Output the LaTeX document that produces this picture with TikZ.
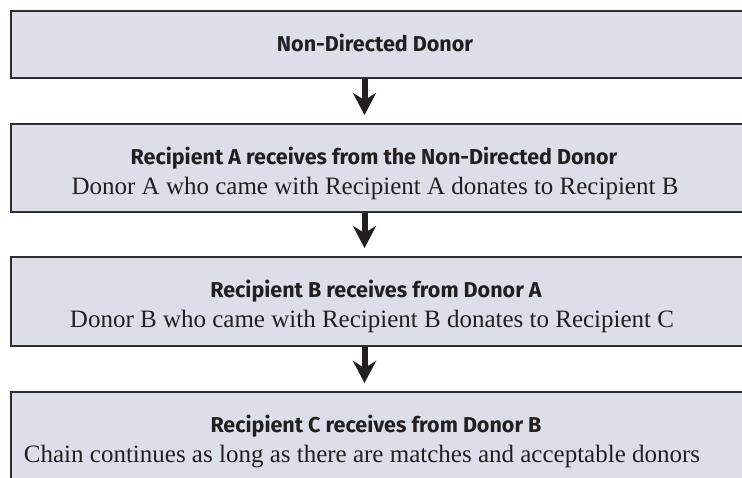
\documentclass[tikz,border=0pt]{standalone}
\usepackage{fontspec}
\setmainfont{Liberation Serif}
\newfontfamily\boldsans{Fira Sans}
\usetikzlibrary{arrows.meta}
\definecolor{boxfill}{RGB}{220,222,234}
\definecolor{boxline}{RGB}{45,45,48}
\definecolor{inktext}{RGB}{35,31,32}
\begin{document}
\begin{tikzpicture}[x=1pt,y=-1pt,
  flowbox/.style={draw=boxline, line width=2pt, fill=boxfill, rectangle, anchor=north west, inner sep=0pt, minimum width=760pt},
  headtext/.style={font=\boldsans\bfseries\fontsize{21.5}{25}\selectfont, text=inktext, inner sep=0pt, anchor=base},
  subtext/.style={font=\fontsize{25}{29}\selectfont, text=inktext, inner sep=0pt, anchor=base},
  flowarrow/.style={line width=6pt, draw=inktext, -{Stealth[length=22pt,width=23pt,inset=7pt]}, shorten >=8pt}]
\useasboundingbox (0,0) rectangle (742,477);
\clip (0,0) rectangle (742,477);
\fill[white] (0,0) rectangle (742,477);
\node[flowbox, minimum height=67pt] (b1) at (10,10) {};
\node[flowbox, minimum height=88pt] (b2) at (10,123) {};
\node[flowbox, minimum height=89pt] (b3) at (10,256) {};
\node[flowbox, minimum height=100pt] (b4) at (10,391) {};
\node[headtext] (t1) at (375,51) {Non-Directed Donor};
\node[headtext] (t2) at (374,164) {Recipient A receives from the Non-Directed Donor};
\node[subtext] (s2) at (375,194) {Donor A who came with Recipient A donates to Recipient B};
\node[headtext] (t3) at (376,297) {Recipient B receives from Donor A};
\node[subtext] (s3) at (372,327) {Donor B who came with Recipient B donates to Recipient C};
\node[headtext] (t4) at (376,432) {Recipient C receives from Donor B};
\node[subtext] (s4) at (362,462) {Chain continues as long as there are matches and acceptable donors};
\coordinate (ax) at (364.5,0);
\draw[flowarrow] (b1.south -| ax) -- (b2.north -| ax);
\draw[flowarrow] (b2.south -| ax) -- (b3.north -| ax);
\draw[flowarrow] (b3.south -| ax) -- (b4.north -| ax);
\end{tikzpicture}
\end{document}
